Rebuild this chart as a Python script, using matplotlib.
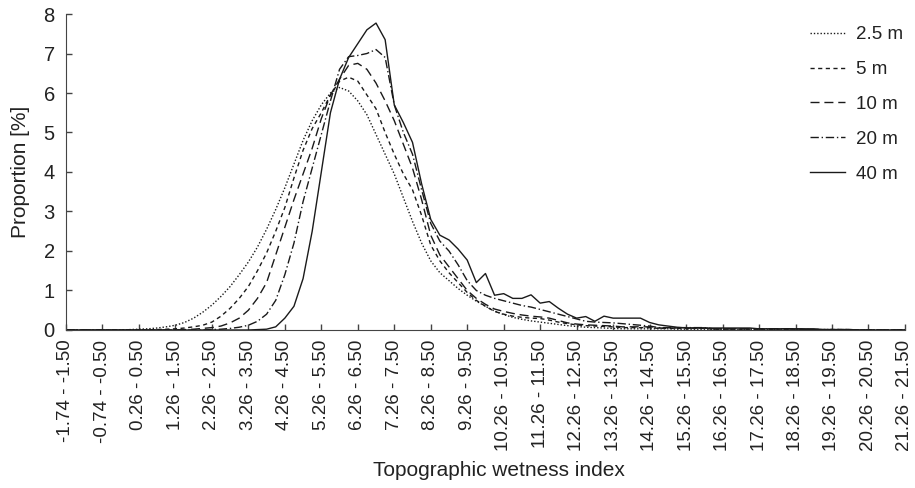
import numpy as np
import matplotlib
matplotlib.use('Agg')
import matplotlib.pyplot as plt

plt.rcParams['font.family'] = ['Liberation Sans', 'DejaVu Sans']

# TWI classes of width 0.25, from -1.74 - -1.50 up to 21.26 - 21.50 (93 classes)
tick_labels = ['%.2f - %.2f' % (lo, lo + 0.24) for lo in np.arange(-1.74, 21.27, 1.0)]

# Proportion [%] per class
p_2_5m = [0, 0, 0, 0, 0, 0, 0, 0.01, 0.02, 0.03,
          0.05, 0.08, 0.12, 0.19, 0.3, 0.45, 0.63, 0.85, 1.1, 1.4,
          1.72, 2.1, 2.55, 3.05, 3.6, 4.2, 4.8, 5.3, 5.7, 6.0,
          6.14, 6.05, 5.8, 5.45, 4.95, 4.45, 3.95, 3.35, 2.75, 2.2,
          1.75, 1.45, 1.25, 1.05, 0.88, 0.73, 0.6, 0.48, 0.39, 0.32,
          0.27, 0.23, 0.2, 0.17, 0.14, 0.11, 0.09, 0.07, 0.06, 0.05,
          0.04, 0.03, 0.03, 0.03, 0.03, 0.03, 0.03, 0.02, 0.02, 0.02,
          0.02, 0.02, 0.02, 0.02, 0.02, 0.02, 0.01, 0.01, 0.01, 0.01,
          0.01, 0.01, 0.01, 0.01, 0.01, 0.01, 0, 0, 0, 0,
          0, 0, 0]
p_5m = [0, 0, 0, 0, 0, 0, 0, 0, 0, 0,
        0.01, 0.02, 0.03, 0.05, 0.08, 0.12, 0.2, 0.35, 0.55, 0.8,
        1.1, 1.5, 1.95, 2.5, 3.1, 3.85, 4.55, 5.1, 5.5, 5.95,
        6.3, 6.4, 6.3, 5.95, 5.6, 5.0, 4.45, 3.95, 3.55, 2.9,
        2.15, 1.75, 1.45, 1.2, 0.95, 0.75, 0.6, 0.47, 0.4, 0.35,
        0.32, 0.3, 0.29, 0.25, 0.2, 0.16, 0.13, 0.11, 0.1, 0.09,
        0.08, 0.06, 0.06, 0.06, 0.06, 0.04, 0.04, 0.04, 0.04, 0.04,
        0.04, 0.02, 0.02, 0.02, 0.02, 0.02, 0.02, 0.02, 0.02, 0.02,
        0.02, 0.01, 0.01, 0.01, 0.01, 0.01, 0.01, 0, 0, 0,
        0, 0, 0]
p_10m = [0, 0, 0, 0, 0, 0, 0, 0, 0, 0,
         0, 0, 0, 0.01, 0.02, 0.04, 0.06, 0.1, 0.18, 0.3,
         0.5, 0.8, 1.2, 1.9, 2.6, 3.3, 3.95, 4.6, 5.35, 5.95,
         6.35, 6.7, 6.75, 6.6, 6.25, 5.8, 5.3, 4.7, 4.1, 3.3,
         2.4, 1.9, 1.6, 1.3, 1.0, 0.8, 0.65, 0.53, 0.47, 0.42,
         0.38, 0.35, 0.33, 0.3, 0.24, 0.18, 0.15, 0.13, 0.12, 0.11,
         0.1, 0.08, 0.08, 0.08, 0.08, 0.05, 0.05, 0.05, 0.05, 0.05,
         0.05, 0.03, 0.03, 0.03, 0.03, 0.03, 0.03, 0.03, 0.03, 0.03,
         0.03, 0.01, 0.01, 0.01, 0.01, 0.01, 0.01, 0, 0, 0,
         0, 0, 0]
p_20m = [0, 0, 0, 0, 0, 0, 0, 0, 0, 0,
         0, 0, 0, 0, 0, 0, 0.01, 0.02, 0.04, 0.07,
         0.12, 0.22, 0.4, 0.75, 1.4, 2.2, 3.25, 4.1, 4.95, 5.8,
         6.6, 6.92, 6.95, 7.0, 7.1, 6.9, 5.7, 5.0, 4.45, 3.55,
         2.7, 2.25, 2.0, 1.65, 1.25, 1.0, 0.88, 0.8, 0.74, 0.68,
         0.62, 0.58, 0.52, 0.46, 0.4, 0.34, 0.28, 0.22, 0.2, 0.19,
         0.18, 0.16, 0.14, 0.12, 0.1, 0.06, 0.06, 0.06, 0.06, 0.06,
         0.06, 0.03, 0.03, 0.03, 0.03, 0.03, 0.03, 0.03, 0.03, 0.03,
         0.03, 0.01, 0.01, 0.01, 0.01, 0.01, 0.01, 0, 0, 0,
         0, 0, 0]
p_40m = [0, 0, 0, 0, 0, 0, 0, 0, 0, 0,
         0, 0, 0, 0, 0, 0, 0, 0, 0, 0,
         0, 0.01, 0.02, 0.08, 0.3, 0.6, 1.3, 2.5, 4.0, 5.5,
         6.35, 6.9, 7.25, 7.6, 7.77, 7.35, 5.7, 5.25, 4.75, 3.7,
         2.8, 2.4, 2.28, 2.05, 1.77, 1.2, 1.43, 0.88, 0.92, 0.8,
         0.8, 0.89, 0.68, 0.72, 0.55, 0.4, 0.3, 0.34, 0.22, 0.35,
         0.3, 0.3, 0.3, 0.3, 0.19, 0.13, 0.1, 0.07, 0.05, 0.05,
         0.05, 0.05, 0.05, 0.05, 0.05, 0.05, 0.03, 0.03, 0.03, 0.03,
         0.03, 0.03, 0.03, 0.01, 0.01, 0.01, 0.01, 0, 0, 0,
         0, 0, 0]

series = [('2.5 m', p_2_5m, (0, (1, 1.4))),
          ('5 m', p_5m, (0, (3, 2.5))),
          ('10 m', p_10m, (0, (6.5, 3.5))),
          ('20 m', p_20m, (0, (6, 2, 1, 2))),
          ('40 m', p_40m, '-')]

fig = plt.figure(figsize=(9.15, 4.88), dpi=100)
ax = fig.add_axes([0.0721, 0.3238, 0.9169, 0.6475])

x = np.arange(len(p_40m))
for name, vals, ls in series:
    ax.plot(x, vals, color='#1a1a1a', linewidth=1.0, linestyle=ls, label=name)

ax.set_xlim(0, len(p_40m) - 1)
ax.set_ylim(0, 8)
ax.set_yticks(range(0, 9))
ax.set_xticks(x[::4])
ax.set_xticklabels(tick_labels, rotation=90, fontsize=13.5, color='#222222')
ax.tick_params(axis='y', labelsize=14.5, labelcolor='#222222')
ax.tick_params(direction='in', length=4, width=1, color='#444444')
ax.tick_params(axis='x', pad=7)
ax.tick_params(axis='y', pad=8)

ax.spines['right'].set_color('none')
ax.spines['top'].set_color('none')
ax.spines['left'].set_color('#444444')
ax.spines['bottom'].set_color('#444444')

ax.set_ylabel('Proportion [%]', fontsize=15, color='#222222')
ax.set_xlabel('Topographic wetness index', fontsize=15, color='#222222')
ax.yaxis.set_label_coords(-0.043, 0.5)
ax.xaxis.set_label_coords(0.516, -0.415)

leg = ax.legend(loc='upper right', bbox_to_anchor=(0.995, 0.962),
                bbox_transform=fig.transFigure, frameon=False, fontsize=13.5,
                handlelength=1.85, handletextpad=0.6, labelspacing=0.95,
                borderaxespad=0)
for t in leg.get_texts():
    t.set_color('#222222')

fig.savefig('out.png', dpi=100)
